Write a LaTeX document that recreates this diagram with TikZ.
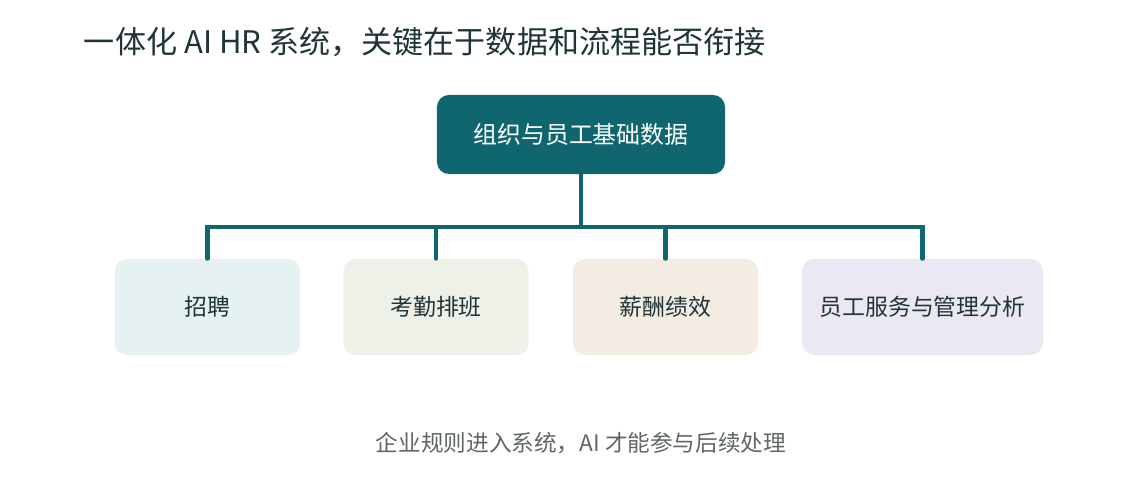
\documentclass[tikz,border=0pt]{standalone}
\usepackage{fontspec}
\setmainfont{Noto Sans CJK SC}
\usepackage{xcolor}
\usepackage{tikz}
\definecolor{tealmain}{HTML}{10666F}
\definecolor{inkdark}{HTML}{1F3538}
\definecolor{inkgray}{HTML}{5F6668}
\definecolor{fillA}{HTML}{E6F2F1}
\definecolor{fillB}{HTML}{EDF1E7}
\definecolor{fillC}{HTML}{F3ECE2}
\definecolor{fillD}{HTML}{ECE8F3}

\begin{document}
\begin{tikzpicture}[x=0.025cm,y=-0.025cm,
		rootbox/.style={fill=tealmain,rounded corners=0.3cm,minimum width=7.2cm,minimum height=1.975cm,text=white,font=\fontsize{17}{20}\selectfont},
		leafbox/.style={rounded corners=0.3cm,minimum width=4.625cm,minimum height=2.4cm,text=inkdark,font=\fontsize{16.3}{19}\selectfont},
		link/.style={draw=tealmain,line width=2.9pt,line cap=round}]
		% 画布
		\useasboundingbox (0,0) rectangle (1126,499);
		% 标题
		\node[anchor=west,text=inkdark,font=\fontsize{22.1}{26}\selectfont] (title) at (79,42) {一体化 AI HR 系统，关键在于数据和流程能否衔接};
		% 根节点
		\node[rootbox] (root) at (581,134.5) {组织与员工基础数据};
		% 子节点
		\node[leafbox,fill=fillA] (zp) at (207.5,307) {招聘};
		\node[leafbox,fill=fillB] (kq) at (436,307) {考勤排班};
		\node[leafbox,fill=fillC] (xc) at (665.5,307) {薪酬绩效};
		\node[leafbox,fill=fillD,minimum width=6.025cm] (fw) at (922.5,307) {员工服务与管理分析};
		% 连接线
		\coordinate (bus) at (581,227);
		\draw[link] (root.south) -- (bus);
		\foreach \n in {zp,kq,xc,fw}
			\draw[link] (bus) -| (\n.north);
		% 说明文字
		\node[text=inkgray,font=\fontsize{16.1}{19}\selectfont] (note) at (581,443) {企业规则进入系统，AI 才能参与后续处理};
	\end{tikzpicture}
\end{document}
